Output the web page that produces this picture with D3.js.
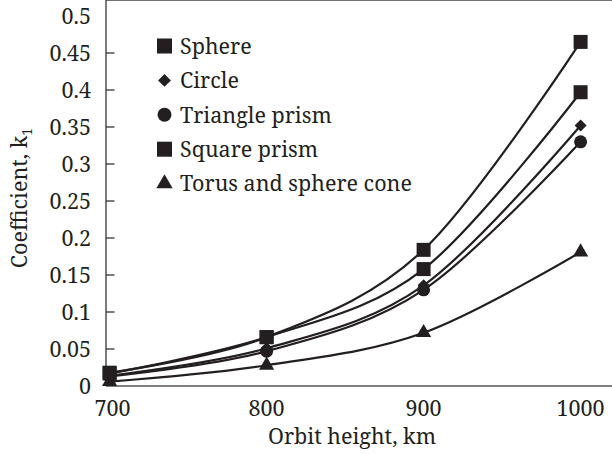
<!DOCTYPE html>
<html>
<head>
<meta charset="utf-8">
<script src="https://cdn.jsdelivr.net/npm/d3@7"></script>
<style>
	body { margin: 0; background: #fff; }
</style>
</head>
<body>
<svg width="612" height="454"></svg>
<script>
// data..........................................................................

var heights = [700, 800, 900, 1000],
	yTicks = [0, 0.05, 0.1, 0.15, 0.2, 0.25, 0.3, 0.35, 0.4, 0.45, 0.5],
	seriesNames = ["Sphere", "Circle", "Triangle prism", "Square prism", "Torus and sphere cone"],
	sphere = [0.018, 0.066, 0.184, 0.465],
	circle = [0.014, 0.051, 0.136, 0.352],
	trianglePrism = [0.013, 0.047, 0.130, 0.330],
	squarePrism = [0.017, 0.066, 0.158, 0.397],
	torusCone = [0.006, 0.028, 0.072, 0.181];

var seriesValues = [sphere, circle, trianglePrism, squarePrism, torusCone],
	shapes = ["square", "diamond", "circle", "square", "triangle"];

// scales and frame..............................................................

var svg = d3.select("svg"),
	ink = "#231f20",
	font = "'Noto Serif', 'Liberation Serif', serif",
	left = 106, right = 612, top = 10, bottom = 386;

var x = d3.scaleLinear().domain([697.7, 1020]).range([left, right]),
	y = d3.scaleLinear().domain([0, 0.5]).range([bottom, 16]);

function label(sel, size) {
	sel.style("font-family", font)
		.style("font-size", size + "px")
		.attr("fill", ink);
}

// top frame line and axes
svg.append("line")
	.attr("x1", left).attr("x2", right)
	.attr("y1", top).attr("y2", top)
	.attr("stroke", "#444").attr("stroke-width", 1.3);

svg.append("line")
	.attr("x1", left).attr("x2", left)
	.attr("y1", top).attr("y2", bottom)
	.attr("stroke", "#333").attr("stroke-width", 1.3);

svg.append("line")
	.attr("x1", left).attr("x2", right)
	.attr("y1", bottom).attr("y2", bottom)
	.attr("stroke", "#555").attr("stroke-width", 1.5);

// inward ticks on the y axis
svg.append("g").selectAll("line")
	.data(yTicks.filter(function(d) { return d > 0 && d < 0.5; }))
	.enter().append("line")
		.attr("x1", left).attr("x2", left + 8.5)
		.attr("y1", function(d) { return y(d); })
		.attr("y2", function(d) { return y(d); })
		.attr("stroke", "#333").attr("stroke-width", 1.3);

svg.append("g").selectAll("text")
	.data(yTicks)
	.enter().append("text")
		.attr("x", 91)
		.attr("y", function(d) { return y(d); })
		.attr("dy", "0.36em")
		.attr("text-anchor", "end")
		.call(label, 21.5)
		.text(function(d) { return d; });

svg.append("g").selectAll("text")
	.data(heights)
	.enter().append("text")
		.attr("x", function(d) { return x(d) + (d == 700 ? 3 : 0); })
		.attr("y", 416)
		.attr("text-anchor", "middle")
		.call(label, 21.5)
		.text(function(d) { return d; });

// axis titles
svg.append("text")
	.attr("x", 352).attr("y", 444)
	.attr("text-anchor", "middle")
	.call(label, 21.5)
	.text("Orbit height, km");

var yTitle = svg.append("text")
	.attr("transform", "translate(27,198) rotate(-90)")
	.attr("text-anchor", "middle")
	.call(label, 21.5);
yTitle.append("tspan").text("Coefficient, k");
yTitle.append("tspan").attr("dy", 5).style("font-size", "14px").text("1");

// series........................................................................

var line = d3.line()
	.x(function(d, i) { return x(heights[i]); })
	.y(function(d) { return y(d); })
	.curve(d3.curveCardinal.tension(0));

svg.append("g").selectAll("path")
	.data(seriesValues)
	.enter().append("path")
		.attr("d", line)
		.attr("fill", "none")
		.attr("stroke", ink)
		.attr("stroke-width", 2.2);

function symbolPath(shape, scale) {
	if (shape == "square") return d3.symbol(d3.symbolSquare, 196 * scale)();
	if (shape == "diamond") return d3.symbol(d3.symbolSquare, 72 * scale)();
	if (shape == "circle") return d3.symbol(d3.symbolCircle, 133 * scale)();
	return d3.symbol(d3.symbolTriangle, 100 * scale)();
}

seriesValues.forEach(function(values, s) {
	svg.append("g").selectAll("path")
		.data(values)
		.enter().append("path")
			.attr("d", symbolPath(shapes[s], 1))
			.attr("transform", function(d, i) {
				return "translate(" + x(heights[i]) + "," + y(d) + ")" +
					(shapes[s] == "diamond" ? " rotate(45)" : "");
			})
			.attr("fill", ink);
});

// legend........................................................................

var legend = svg.append("g").selectAll("g")
	.data(seriesNames)
	.enter().append("g")
		.attr("transform", function(d, i) { return "translate(164.5," + (46 + i * 34.4) + ")"; });

legend.append("path")
	.attr("d", function(d, i) { return symbolPath(shapes[i], 1.15); })
	.attr("transform", function(d, i) { return shapes[i] == "diamond" ? "rotate(45)" : null; })
	.attr("fill", ink);

legend.append("text")
	.attr("x", 15.5)
	.attr("dy", "0.36em")
	.call(label, 21.5)
	.text(function(d) { return d; });
</script>
</body>
</html>
